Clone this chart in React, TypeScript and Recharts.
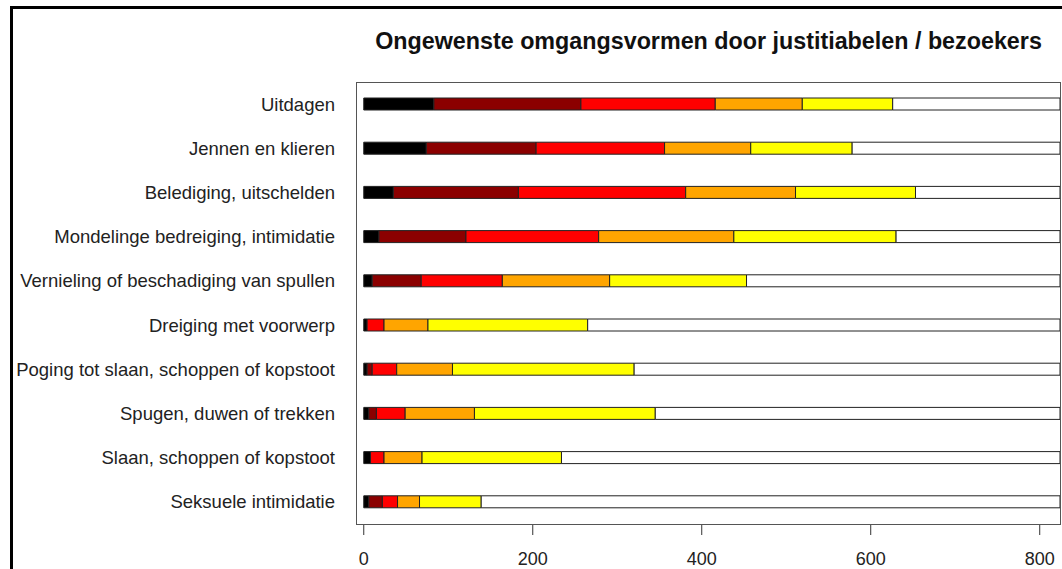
import { BarChart, Bar, XAxis, YAxis } from "recharts";

const categorieen = [
  "Uitdagen",
  "Jennen en klieren",
  "Belediging, uitschelden",
  "Mondelinge bedreiging, intimidatie",
  "Vernieling of beschadiging van spullen",
  "Dreiging met voorwerp",
  "Poging tot slaan, schoppen of kopstoot",
  "Spugen, duwen of trekken",
  "Slaan, schoppen of kopstoot",
  "Seksuele intimidatie",
];

const zwart = [83, 74, 35, 18, 10, 4, 4, 6, 8, 6];
const donkerrood = [174, 130, 148, 103, 58, 0, 6, 9, 0, 16];
const rood = [159, 152, 198, 157, 96, 20, 29, 34, 16, 18];
const oranje = [103, 102, 130, 160, 127, 52, 66, 82, 45, 26];
const geel = [107, 120, 142, 192, 162, 189, 215, 214, 165, 73];
const wit = [198, 246, 171, 194, 371, 559, 504, 479, 590, 685];

const xTicks = [0, 200, 400, 600, 800];

const series = [
  { key: "zwart", fill: "#000000" },
  { key: "donkerrood", fill: "#8b0000" },
  { key: "rood", fill: "#ff0000" },
  { key: "oranje", fill: "#ffa500" },
  { key: "geel", fill: "#ffff00" },
  { key: "wit", fill: "#ffffff" },
];

const data = categorieen.map((name, i) => ({
  name,
  zwart: zwart[i],
  donkerrood: donkerrood[i],
  rood: rood[i],
  oranje: oranje[i],
  geel: geel[i],
  wit: wit[i],
}));

const font = "'Liberation Sans', Arial, Helvetica, sans-serif";

export default function App() {
  return (
    <div
      style={{
        position: "fixed",
        left: 0,
        top: 0,
        width: 1062,
        height: 569,
        background: "#fff",
        overflow: "hidden",
        fontFamily: font,
      }}
    >
      {/* outer frame, only left and top edges are visible */}
      <div
        style={{
          position: "absolute",
          left: 10,
          top: 6,
          width: 1200,
          height: 700,
          borderLeft: "3px solid #000",
          borderTop: "3px solid #000",
        }}
      />
      <div
        style={{
          position: "absolute",
          left: 357,
          width: 703,
          top: 28,
          textAlign: "center",
          fontWeight: "bold",
          fontSize: 23.3,
          color: "#111",
        }}
      >
        Ongewenste omgangsvormen door justitiabelen / bezoekers
      </div>
      <div style={{ position: "absolute", left: 0, top: 0 }}>
        <BarChart
          width={1062}
          height={569}
          data={data}
          layout="vertical"
          margin={{ top: 82, right: 2, bottom: 4, left: 0 }}
          barSize={12}
        >
          <XAxis
            type="number"
            domain={[-8, 824]}
            ticks={xTicks}
            allowDataOverflow
            axisLine={false}
            tickSize={11}
            tickMargin={17}
            height={41}
            tickLine={{ stroke: "#333" }}
            tick={{ fill: "#222", fontSize: 18, fontFamily: font }}
          />
          <YAxis
            type="category"
            dataKey="name"
            width={357}
            axisLine={false}
            tickLine={false}
            tickSize={0}
            tickMargin={22}
            interval={0}
            tick={{ fill: "#222", fontSize: 18.5, fontFamily: font }}
          />
          {series.map((s) => (
            <Bar
              key={s.key}
              dataKey={s.key}
              stackId="a"
              fill={s.fill}
              stroke="#222"
              strokeWidth={1}
              isAnimationActive={false}
            />
          ))}
        </BarChart>
      </div>
      {/* plot box */}
      <div
        style={{
          position: "absolute",
          left: 356,
          top: 82,
          width: 703,
          height: 441,
          border: "1px solid #555",
          pointerEvents: "none",
        }}
      />
    </div>
  );
}
